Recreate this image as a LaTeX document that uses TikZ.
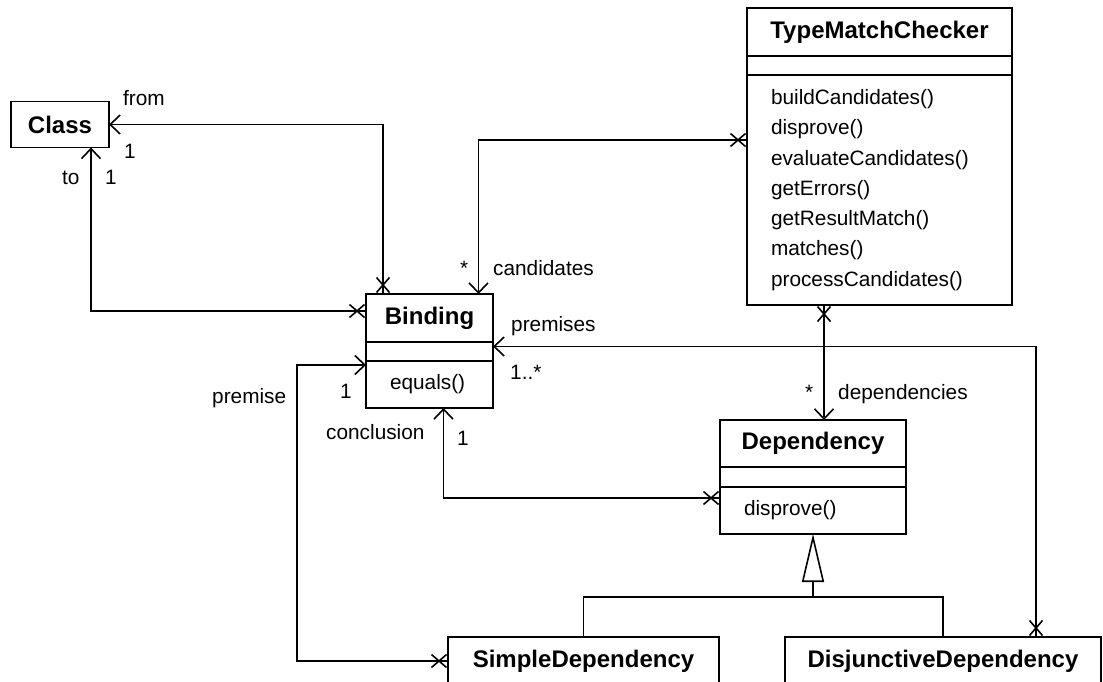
\documentclass[tikz,border=0pt]{standalone}
\usepackage{fontspec}
\setmainfont{Liberation Sans}
\usetikzlibrary{positioning,arrows.meta,decorations.markings}

\begin{document}
\begin{tikzpicture}[x=1pt, y=1pt, node distance=0pt,
        box/.style={draw, line width=1.8pt, fill=white, inner sep=0pt, outer sep=0pt},
        clsTitle/.style={box, minimum width=#1, minimum height=48pt, font=\fontsize{24}{28}\selectfont\bfseries},
        clsAttrs/.style={box, minimum width=#1, minimum height=19pt},
        clsOps/.style={box, text width=#1, align=left, inner xsep=24pt, font=\fontsize{20.8}{30.3}\selectfont},
        lbl/.style={anchor=base west, inner sep=0pt, font=\fontsize{20.8}{24}\selectfont},
        assoc/.style={line width=1.6pt, -{Straight Barb[length=10pt,width=19pt]},
            postaction={decorate, decoration={markings, mark=at position 9pt with
                {\draw[arrows=-, line width=1.6pt] (-7.5pt,-6.5pt) -- (7.5pt,6.5pt) (-7.5pt,6.5pt) -- (7.5pt,-6.5pt);}}}},
        gen/.style={line width=1.6pt}]
    \path[use as bounding box] (0,0) rectangle (1103,-682);
    \clip (0,0) rectangle (1103,-682);

    % classes
    \node[clsTitle=98pt, minimum height=46pt] (cls) at (60,-124.5) {Class};

    \node[clsTitle=127pt] (bindT) at (429.5,-318) {Binding};
    \node[clsAttrs=127pt, below=of bindT] (bindA) {};
    \node[clsOps=79pt, minimum height=47pt, below=of bindA] (bindO) {equals()};

    \node[clsTitle=265pt] (tmcT) at (879.5,-32) {TypeMatchChecker};
    \node[clsAttrs=265pt, below=of tmcT] (tmcA) {};
    \node[clsOps=217pt, minimum height=230pt, below=of tmcA] (tmcO) {buildCandidates()\\disprove()\\evaluateCandidates()\\getErrors()\\getResultMatch()\\matches()\\processCandidates()};

    \node[clsTitle=186pt, minimum height=47pt] (depT) at (813,-443.5) {Dependency};
    \node[clsAttrs=186pt, minimum height=20pt, below=of depT] (depA) {};
    \node[clsOps=138pt, minimum height=47pt, below=of depA] (depO) {disprove()};

    \node[clsTitle=271pt] (simp) at (583.5,-661) {SimpleDependency};
    \node[clsTitle=316pt] (disj) at (943,-661) {DisjunctiveDependency};

    % associations
    \draw[assoc] ([xshift=-46.5pt]bindT.north) |- (cls.east);
    \draw[assoc] ([yshift=7pt]bindT.west) -| ([xshift=31pt]cls.south);
    \draw[assoc] ([yshift=50pt]tmcO.west) -| ([xshift=49pt]bindT.north);
    \draw[assoc] ([xshift=-55.5pt]tmcO.south) -- ([xshift=11pt]depT.north);
    \draw[assoc] ([xshift=93pt]disj.north) |- ([yshift=5pt]bindA.east);
    \draw[assoc] (simp.west) -- ++(-151pt,0) |- ([yshift=19.5pt]bindO.west);
    \draw[assoc] ([yshift=12.5pt]depO.west) -| ([xshift=14pt]bindO.south);

    % generalization
    \coordinate (gj) at ([yshift=-63pt]depO.south);
    \draw[gen] (simp.north) |- (gj) -| (disj.north);
    \draw[gen, -{Triangle[open, length=48pt, width=22pt]}] (gj) -- (depO.south);

    % role names and multiplicities
    \node[lbl] (fromL) at (123,-106) {from};
    \node[lbl] (fromM) at (124,-159) {1};
    \node[lbl] (toL) at (62,-184) {to};
    \node[lbl] (toM) at (105,-184) {1};
    \node[lbl] (candM) at (460,-275) {*};
    \node[lbl] (candL) at (493,-275) {candidates};
    \node[lbl] (premsL) at (511,-331) {premises};
    \node[lbl] (premsM) at (510,-379) {1..*};
    \node[lbl] (premL) at (212,-403) {premise};
    \node[lbl] (premM) at (340,-398) {1};
    \node[lbl] (conclL) at (326,-439) {conclusion};
    \node[lbl] (conclM) at (457,-445) {1};
    \node[lbl] (depsM) at (805,-399) {*};
    \node[lbl] (depsL) at (838,-399) {dependencies};
\end{tikzpicture}
\end{document}
